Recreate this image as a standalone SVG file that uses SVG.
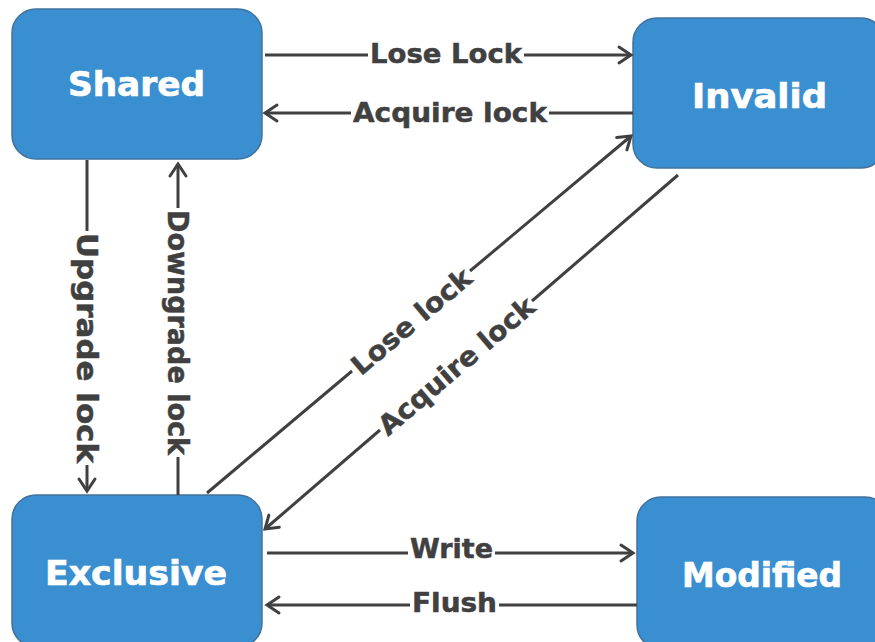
<svg xmlns="http://www.w3.org/2000/svg" width="875" height="642" viewBox="0 0 875 642">
<style>
.node{fill:#3a8fd1;stroke:#41719c;stroke-width:1.5}
.nt{font-family:"DejaVu Sans","Verdana",sans-serif;font-weight:bold;font-size:34px;fill:#ffffff;stroke:#ffffff;stroke-width:0.7;text-anchor:middle}
.ln{stroke:#404040;stroke-width:3;fill:none;stroke-linecap:butt}
.et{font-family:"DejaVu Sans","Verdana",sans-serif;font-weight:bold;font-size:27px;fill:#404040;stroke:#404040;stroke-width:0.5;text-anchor:middle}
.vt{font-size:29px}
</style>
<defs>
<marker id="arr" markerUnits="userSpaceOnUse" markerWidth="30" markerHeight="30" viewBox="-16 -15 30 30" refX="0" refY="0" orient="auto">
<path d="M-12,-8 L0,0 L-12,8" fill="none" stroke="#404040" stroke-width="3" stroke-linejoin="miter" stroke-linecap="round"/>
</marker>
</defs>
<rect width="875" height="642" fill="#ffffff"/>
<g id="shared"><rect class="node" x="12" y="9" width="250" height="150" rx="24"/><text class="nt" x="136.5" y="96" textLength="137" lengthAdjust="spacingAndGlyphs">Shared</text></g>
<g id="invalid"><rect class="node" x="633" y="18" width="252" height="150" rx="24"/><text class="nt" x="759.5" y="108" textLength="135" lengthAdjust="spacingAndGlyphs">Invalid</text></g>
<g id="exclusive"><rect class="node" x="12" y="495" width="250" height="152" rx="24"/><text class="nt" x="136" y="585" textLength="182" lengthAdjust="spacingAndGlyphs">Exclusive</text></g>
<g id="modified"><rect class="node" x="637" y="497" width="252" height="152" rx="24"/><text class="nt" x="762" y="587" textLength="160" lengthAdjust="spacingAndGlyphs">Modified</text></g>
<g id="connectors">
<line class="ln" x1="265" y1="55" x2="368" y2="55"/>
<line class="ln" x1="524" y1="55" x2="631" y2="55" marker-end="url(#arr)"/>
<text class="et" x="446" y="63" textLength="152" lengthAdjust="spacingAndGlyphs">Lose Lock</text>
<line class="ln" x1="633" y1="113" x2="549" y2="113"/>
<line class="ln" x1="351" y1="113" x2="265" y2="113" marker-end="url(#arr)"/>
<text class="et" x="450" y="122" textLength="194" lengthAdjust="spacingAndGlyphs">Acquire lock</text>
<line class="ln" x1="267" y1="553" x2="408" y2="553"/>
<line class="ln" x1="495" y1="553" x2="633" y2="553" marker-end="url(#arr)"/>
<text class="et" x="451.5" y="558" textLength="83" lengthAdjust="spacingAndGlyphs">Write</text>
<line class="ln" x1="637" y1="605" x2="499" y2="605"/>
<line class="ln" x1="410" y1="605" x2="267" y2="605" marker-end="url(#arr)"/>
<text class="et" x="454.5" y="612" textLength="85" lengthAdjust="spacingAndGlyphs">Flush</text>
<line class="ln" x1="87" y1="160" x2="87" y2="231"/>
<line class="ln" x1="87" y1="465" x2="87" y2="491" marker-end="url(#arr)"/>
<text class="et vt" transform="translate(87,348) rotate(90)" x="0" y="10.5" textLength="230" lengthAdjust="spacingAndGlyphs">Upgrade lock</text>
<line class="ln" x1="178" y1="495" x2="178" y2="457"/>
<line class="ln" x1="178" y1="208" x2="178" y2="164" marker-end="url(#arr)"/>
<text class="et vt" transform="translate(178,332.5) rotate(90)" x="0" y="10.5" textLength="245" lengthAdjust="spacingAndGlyphs">Downgrade lock</text>
<line class="ln" x1="207" y1="493" x2="352" y2="371"/>
<line class="ln" x1="470" y1="271" x2="631" y2="136" marker-end="url(#arr)"/>
<text class="et" transform="translate(411,321) rotate(-40.3)" x="0" y="10" textLength="148" lengthAdjust="spacingAndGlyphs">Lose lock</text>
<line class="ln" x1="678" y1="175" x2="532" y2="301"/>
<line class="ln" x1="380" y1="430" x2="265" y2="529" marker-end="url(#arr)"/>
<text class="et" transform="translate(456,365.5) rotate(-40.5)" x="0" y="10" textLength="196" lengthAdjust="spacingAndGlyphs">Acquire lock</text>
</g>
</svg>
